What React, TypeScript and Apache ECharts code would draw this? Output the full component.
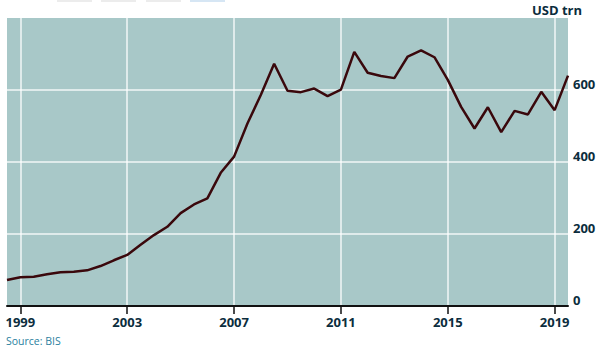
import React, { useEffect, useRef } from "react";
import * as echarts from "echarts";

const periods: number[] = [
  1998.5, 1999, 1999.5, 2000, 2000.5, 2001, 2001.5, 2002, 2002.5, 2003, 2003.5,
  2004, 2004.5, 2005, 2005.5, 2006, 2006.5, 2007, 2007.5, 2008, 2008.5, 2009,
  2009.5, 2010, 2010.5, 2011, 2011.5, 2012, 2012.5, 2013, 2013.5, 2014, 2014.5,
  2015, 2015.5, 2016, 2016.5, 2017, 2017.5, 2018, 2018.5, 2019, 2019.5,
];
const notional: number[] = [
  72, 80, 81, 88, 94, 95, 99, 111, 127, 142, 170,
  197, 220, 258, 282, 299, 370, 415, 507, 586, 673, 598,
  594, 604, 583, 601, 706, 648, 639, 633, 693, 710, 691,
  628, 553, 493, 552, 483, 542, 532, 595, 544, 640,
];
const xTicks: number[] = [1999, 2003, 2007, 2011, 2015, 2019];
const yTicks: number[] = [0, 200, 400, 600];
const unitLabel = "USD trn";
const sourceLabel = "Source: BIS";

const FONT = "'Open Sans', 'DejaVu Sans', sans-serif";

export default function App() {
  const ref = useRef<HTMLDivElement>(null);
  useEffect(() => {
    if (!ref.current) return;
    const chart = echarts.init(ref.current, null, { renderer: "svg" });
    const data = periods.map((p, i) => [p, notional[i]]);
    chart.setOption({
      animation: false,
      grid: {
        left: 7,
        right: 32,
        top: 18,
        bottom: 45,
        show: true,
        backgroundColor: "#a8c8c8",
        borderWidth: 0,
      },
      xAxis: {
        type: "value",
        min: 1998.5,
        max: 2019.5,
        axisLine: { show: true, lineStyle: { color: "#111", width: 2 } },
        axisTick: {
          show: true,
          customValues: xTicks,
          length: 8,
          lineStyle: { color: "#111", width: 1.5 },
        },
        axisLabel: {
          customValues: xTicks,
          margin: 9,
          color: "#0b2d3d",
          fontFamily: FONT,
          fontWeight: "bold",
          fontSize: 13,
          formatter: (v: number) => String(v),
        },
        splitLine: {
          show: true,
          lineStyle: { color: "rgba(255,255,255,0.85)", width: 1.5 },
        },
      },
      yAxis: {
        type: "value",
        position: "right",
        min: 0,
        max: 800,
        axisLine: { show: false },
        axisTick: { show: false, customValues: yTicks },
        axisLabel: {
          customValues: yTicks,
          margin: 5,
          verticalAlign: "bottom",
          color: "#0b2d3d",
          fontFamily: FONT,
          fontWeight: "bold",
          fontSize: 13,
        },
        splitLine: {
          show: true,
          lineStyle: { color: "rgba(255,255,255,0.85)", width: 1.5 },
        },
      },
      series: [
        {
          type: "line",
          data,
          symbol: "none",
          lineStyle: { color: "#3a080c", width: 2.5 },
          z: 5,
        },
      ],
      graphic: [
        { type: "rect", shape: { x: 57, y: -2, width: 35, height: 4 }, style: { fill: "#ececec" } },
        { type: "rect", shape: { x: 101, y: -2, width: 35, height: 4 }, style: { fill: "#ececec" } },
        { type: "rect", shape: { x: 146, y: -2, width: 35, height: 4 }, style: { fill: "#ececec" } },
        { type: "rect", shape: { x: 190, y: -2, width: 35, height: 4 }, style: { fill: "#d6e6f4" } },
        {
          type: "text",
          right: 18,
          top: 3,
          style: {
            text: unitLabel,
            fill: "#0b2d3d",
            font: `bold 13px ${FONT}`,
          },
        },
        {
          type: "text",
          left: 6,
          top: 335,
          style: {
            text: sourceLabel,
            fill: "#2a7fa0",
            font: `10.5px ${FONT}`,
          },
        },
      ],
    });
    return () => chart.dispose();
  }, []);
  return (
    <div
      ref={ref}
      style={{ width: 600, height: 351, position: "absolute", left: 0, top: 0 }}
    />
  );
}
